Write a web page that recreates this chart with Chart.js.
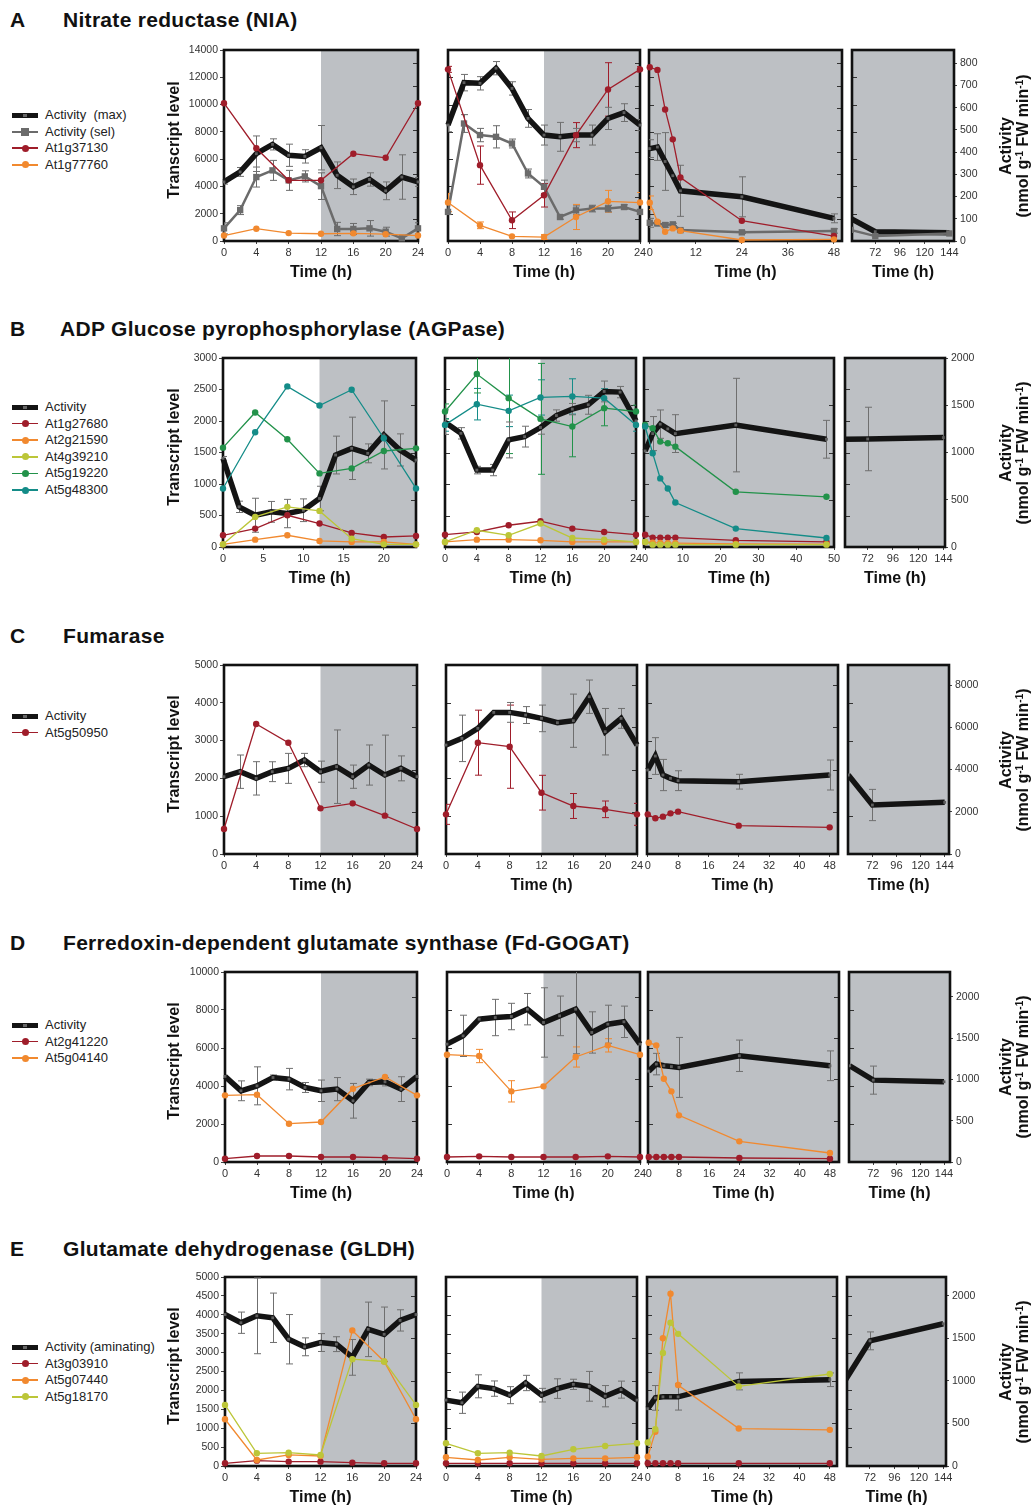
<!DOCTYPE html>
<html><head><meta charset="utf-8">
<script src="https://cdn.jsdelivr.net/npm/chart.js@4.4.1/dist/chart.umd.min.js"></script>
<style>
body{margin:0;width:1036px;height:1510px;background:#fff;position:relative;overflow:hidden;font-family:"Liberation Sans",Arial,Helvetica,sans-serif;color:#111}
.abs{position:absolute;white-space:nowrap}
.letter{font-weight:bold;font-size:21px;line-height:24px}
.title{font-weight:bold;font-size:21px;letter-spacing:0.3px;line-height:24px}
.leg{font-size:13px;line-height:16px;color:#222;white-space:pre}
.rot{position:absolute;display:flex;flex-direction:column;align-items:center;justify-content:center;transform:rotate(-90deg);text-align:center;font-weight:bold;font-size:16px;line-height:17px;white-space:nowrap;color:#111}
.rot span{display:block;white-space:nowrap}
canvas{position:absolute}
sup{font-size:10px;line-height:0;vertical-align:5px}
</style></head><body>
<script>
// ---------- time points ----------
const T_DAY  = [0,2,4,6,8,10,12,14,16,18,20,22,24];
const T_GENE = [0,4,8,12,16,20,24];
const T_DARK = [0,2,4,6,8,24,48];
const T_LONG = [48,72,144];

// ---------- A: Nitrate reductase ----------
const A_max1 = [266,311,393,435,386,381,420,296,244,277,226,288,266];
const A_max1_err = [10,20,80,25,50,30,100,60,35,30,40,100,20];
const A_max2 = [522,713,710,778,687,552,477,469,477,477,552,578,522];
const A_max2_err = [30,37,30,30,30,40,45,65,30,45,50,40,25];
const A_max3 = [416,423,358,294,226,199,102];
const A_max3_err = [40,60,130,0,115,90,20];
const A_max4 = [102,42,37];
const A_sel1 = [57,139,288,318,273,291,247,54,54,57,42,12,57];
const A_sel1_err = [25,20,45,45,45,25,60,30,25,35,20,15,25];
const A_sel2 = [131,529,477,469,439,304,244,108,138,146,146,153,131];
const A_sel2_err = [0,40,30,50,20,20,30,10,20,15,15,10,0];
const A_sel3 = [82,79,72,75,49,39,45];
const A_sel3_err = [20,10,10,5,5,5,10];
const A_sel4 = [50,22,34];
const A_At1g37130_1 = [10100,6800,4450,4450,6400,6100,10100];
const A_At1g37130_2 = [12580,5560,1520,3350,7760,11110,12580];
const A_At1g37130_2_err = [220,1400,610,860,920,1960,200];
const A_At1g37130_3 = [12735,12540,9643,7451,4651,1485,365];
const A_At1g77760_1 = [400,900,580,530,560,500,400];
const A_At1g77760_2 = [2820,1150,340,290,1760,2910,2820];
const A_At1g77760_2_err = [670,245,0,180,920,800,735];
const A_At1g77760_3 = [2800,1412,682,925,755,73,122];
const A_At1g77760_3_err = [500,0,0,0,0,0,0];

// ---------- B: AGPase ----------
const B_act1 = [938,425,336,372,354,389,513,973,1044,991,1186,1027,920];
const B_act1_err = [20,60,180,110,150,120,130,200,330,100,360,170,20];
const B_act2 = [1321,1203,814,814,1133,1168,1264,1391,1459,1505,1646,1639,1335];
const B_act2_err = [130,60,40,60,190,110,70,60,60,100,110,60,40];
const B_act3 = [1016,1200,1300,1250,1200,1290,1140];
const B_act3_err = [0,180,150,0,200,495,200];
const B_act4 = [1140,1143,1158];
const B_act4_err = [0,336,0];
const B_At1g27680_1 = [186,292,504,372,223,159,175];
const B_At1g27680_2 = [196,239,345,409,292,239,196];
const B_At1g27680_3 = [196,149,149,149,149,106,80];
const B_At2g21590_1 = [42,117,186,96,80,80,42];
const B_At2g21590_2 = [80,117,117,106,80,80,80];
const B_At2g21590_3 = [80,69,65,60,60,50,45];
const B_At4g39210_1 = [42,478,637,573,133,42,42];
const B_At4g39210_2 = [80,266,186,372,143,117,80];
const B_At4g39210_3 = [80,37,37,37,37,37,37];
const B_At5g19220_1 = [1577,2135,1710,1168,1248,1524,1566];
const B_At5g19220_2 = [2151,2745,2363,2034,1912,2204,2151];
const B_At5g19220_2_err = [120,300,880,880,480,280,100];
const B_At5g19220_3 = [1938,1885,1673,1646,1593,876,797];
const B_At5g48300_1 = [929,1821,2549,2246,2496,1726,929];
const B_At5g48300_2 = [1938,2267,2161,2374,2390,2363,1938];
const B_At5g48300_2_err = [100,250,250,280,280,150,100];
const B_At5g48300_3 = [1912,1487,1089,929,706,292,143];

// ---------- C: Fumarase ----------
const C_act1 = [3661,3898,3582,3898,4055,4450,3898,4134,3661,4213,3740,4055,3661];
const C_act1_err = [0,790,790,470,710,315,500,1740,550,950,1890,590,0];
const C_act2 = [5160,5476,5949,6706,6706,6580,6422,6217,6312,7448,5791,6422,5160];
const C_act2_err = [0,1100,0,0,470,400,630,0,1260,790,1100,470,0];
const C_act3 = [3977,4639,3740,3582,3472,3424,3740];
const C_act3_err = [0,870,740,0,470,350,710];
const C_act4 = [3740,2320,2446];
const C_act4_err = [0,740,0];
const C_At5g50950_1 = [661,3439,2945,1208,1340,1014,661];
const C_At5g50950_2 = [1049,2945,2839,1622,1270,1182,1049];
const C_At5g50950_2_err = [265,860,1100,460,330,220,290];
const C_At5g50950_3 = [1049,944,988,1076,1120,750,705];

// ---------- D: Fd-GOGAT ----------
const D_act1 = [1036,862,922,1023,1003,902,862,882,741,963,971,882,1036];
const D_act1_err = [0,120,230,30,130,60,130,140,210,40,50,150,0];
const D_act2 = [1427,1527,1729,1749,1761,1850,1689,1769,1850,1568,1668,1697,1427];
const D_act2_err = [0,250,0,220,160,190,420,240,540,250,230,190,0];
const D_act3 = [1100,1185,1165,1155,1145,1286,1165];
const D_act3_err = [0,130,0,0,363,190,180];
const D_act4 = [1165,991,971];
const D_act4_err = [0,170,0];
const D_At2g41220_1 = [175,316,316,263,263,228,175];
const D_At2g41220_2 = [263,298,263,263,263,298,263];
const D_At2g41220_3 = [263,263,263,263,263,210,175];
const D_At5g04140_1 = [3508,3543,2017,2105,3859,4473,3508];
const D_At5g04140_2 = [5648,5578,3719,3982,5526,6139,5648];
const D_At5g04140_2_err = [0,350,560,0,530,350,0];
const D_At5g04140_3 = [6279,6139,4385,3719,2456,1087,474];

// ---------- E: GLDH ----------
const E_act1 = [1779,1683,1764,1741,1489,1400,1450,1431,1276,1605,1547,1710,1779];
const E_act1_err = [0,125,445,290,290,105,105,87,210,320,320,125,0];
const E_act2 = [774,743,936,909,832,975,832,909,959,936,820,897,774];
const E_act2_err = [0,125,135,90,100,90,80,115,60,175,125,100,0];
const E_act3 = [673,800,812,812,812,994,1013];
const E_act3_err = [0,145,0,0,155,100,80];
const E_act4 = [1013,1470,1671];
const E_act4_err = [0,105,0];
const E_At3g03910_1 = [71,141,115,115,88,71,71];
const E_At3g03910_2 = [71,71,71,71,71,71,71];
const E_At3g03910_3 = [71,71,71,71,71,71,71];
const E_At5g07440_1 = [1237,159,292,265,3587,2765,1237];
const E_At5g07440_2 = [230,159,230,177,203,203,230];
const E_At5g07440_3 = [248,903,3381,4558,2142,991,956];
const E_At5g18170_1 = [1617,336,353,292,2827,2765,1617];
const E_At5g18170_2 = [601,336,353,265,442,530,601];
const E_At5g18170_3 = [620,974,2991,3788,3496,2106,2434];

// ---------- axis tick labels ----------
const TICKS_DAY  = [0,4,8,12,16,20,24];
const TICKS_DAY5 = [0,5,10,15,20];
const TICKS_D12  = [0,12,24,36,48];
const TICKS_D10  = [0,10,20,30,40,50];
const TICKS_D8   = [0,8,16,24,32,40,48];
const TICKS_LONG = [72,96,120,144];

// ---------- styling ----------
const FONT = '"Liberation Sans", Arial, Helvetica, sans-serif';
const SHADE = '#bdc0c4';
const COL = {red:'#9f1d2a', orange:'#f1892f', yellow:'#bcc638', green:'#22924a', teal:'#148c88', black:'#141414', gray:'#6b6b6b'};
const ALL = [[-1000,1000]], HALF = [[12,1000]];

const ROWS = [
 {letter:'A', title:'Nitrate reductase (NIA)', tx:63,
  top:50, bottom:241, box:[[224,418],[448,640],[649,842],[852,954]],
  xr:[[0,24],[0,24],[-0.2,50.1],[49.4,148.5]], ticks:[TICKS_DAY,TICKS_DAY,TICKS_D12,TICKS_LONG],
  lmax:14000, lstep:2000, rmax:860, rstep:100, legY:115,
  series:[
   {label:'Activity  (max)', kind:'act', p:[[T_DAY,A_max1,A_max1_err],[T_DAY,A_max2,A_max2_err],[T_DARK,A_max3,A_max3_err],[T_LONG,A_max4]]},
   {label:'Activity (sel)', kind:'sel', p:[[T_DAY,A_sel1,A_sel1_err],[T_DAY,A_sel2,A_sel2_err],[T_DARK,A_sel3,A_sel3_err],[T_LONG,A_sel4]]},
   {label:'At1g37130', color:COL.red, p:[[T_GENE,A_At1g37130_1],[T_GENE,A_At1g37130_2,A_At1g37130_2_err],[T_DARK,A_At1g37130_3]]},
   {label:'At1g77760', color:COL.orange, p:[[T_GENE,A_At1g77760_1],[T_GENE,A_At1g77760_2,A_At1g77760_2_err],[T_DARK,A_At1g77760_3,A_At1g77760_3_err]]}
  ]},
 {letter:'B', title:'ADP Glucose pyrophosphorylase (AGPase)', tx:60,
  top:358, bottom:547, box:[[223,416],[445,636],[644,834],[845,945]],
  xr:[[0,24],[0,24],[-0.3,50],[50.4,145.6]], ticks:[TICKS_DAY5,TICKS_DAY,TICKS_D10,TICKS_LONG],
  lmax:3000, lstep:500, rmax:2000, rstep:500, legY:407,
  series:[
   {label:'Activity', kind:'act', p:[[T_DAY,B_act1,B_act1_err],[T_DAY,B_act2,B_act2_err],[T_DARK,B_act3,B_act3_err],[T_LONG,B_act4,B_act4_err]]},
   {label:'At1g27680', color:COL.red, p:[[T_GENE,B_At1g27680_1],[T_GENE,B_At1g27680_2],[T_DARK,B_At1g27680_3]]},
   {label:'At2g21590', color:COL.orange, p:[[T_GENE,B_At2g21590_1],[T_GENE,B_At2g21590_2],[T_DARK,B_At2g21590_3]]},
   {label:'At4g39210', color:COL.yellow, p:[[T_GENE,B_At4g39210_1],[T_GENE,B_At4g39210_2],[T_DARK,B_At4g39210_3]]},
   {label:'At5g19220', color:COL.green, p:[[T_GENE,B_At5g19220_1],[T_GENE,B_At5g19220_2,B_At5g19220_2_err],[T_DARK,B_At5g19220_3]]},
   {label:'At5g48300', color:COL.teal, p:[[T_GENE,B_At5g48300_1],[T_GENE,B_At5g48300_2,B_At5g48300_2_err],[T_DARK,B_At5g48300_3]]}
  ]},
 {letter:'C', title:'Fumarase', tx:63,
  top:665, bottom:854, box:[[224,417],[446,637],[647,838],[848,949]],
  xr:[[0,24],[0,24],[-0.2,50.2],[47.7,148.3]], ticks:[TICKS_DAY,TICKS_DAY,TICKS_D8,TICKS_LONG],
  lmax:5000, lstep:1000, rmax:8950, rstep:2000, legY:716,
  series:[
   {label:'Activity', kind:'act', p:[[T_DAY,C_act1,C_act1_err],[T_DAY,C_act2,C_act2_err],[T_DARK,C_act3,C_act3_err],[T_LONG,C_act4,C_act4_err]]},
   {label:'At5g50950', color:COL.red, p:[[T_GENE,C_At5g50950_1],[T_GENE,C_At5g50950_2,C_At5g50950_2_err],[T_DARK,C_At5g50950_3]]}
  ]},
 {letter:'D', title:'Ferredoxin-dependent glutamate synthase (Fd-GOGAT)', tx:63,
  top:972, bottom:1162, box:[[225,417],[447,640],[648,839],[849,950]],
  xr:[[0,24],[0,24],[-0.2,50.4],[47.3,150.1]], ticks:[TICKS_DAY,TICKS_DAY,TICKS_D8,TICKS_LONG],
  lmax:10000, lstep:2000, rmax:2300, rstep:500, legY:1025,
  series:[
   {label:'Activity', kind:'act', p:[[T_DAY,D_act1,D_act1_err],[T_DAY,D_act2,D_act2_err],[T_DARK,D_act3,D_act3_err],[T_LONG,D_act4,D_act4_err]]},
   {label:'At2g41220', color:COL.red, p:[[T_GENE,D_At2g41220_1],[T_GENE,D_At2g41220_2],[T_DARK,D_At2g41220_3]]},
   {label:'At5g04140', color:COL.orange, p:[[T_GENE,D_At5g04140_1],[T_GENE,D_At5g04140_2,D_At5g04140_2_err],[T_DARK,D_At5g04140_3]]}
  ]},
 {letter:'E', title:'Glutamate dehydrogenase (GLDH)', tx:63,
  top:1277, bottom:1466, box:[[225,416],[446,637],[647,837],[847,946]],
  xr:[[0,24],[0,24],[-0.2,49.9],[49.4,146.7]], ticks:[TICKS_DAY,TICKS_DAY,TICKS_D8,TICKS_LONG],
  lmax:5000, lstep:500, rmax:2220, rstep:500, legY:1347,
  series:[
   {label:'Activity (aminating)', kind:'act', p:[[T_DAY,E_act1,E_act1_err],[T_DAY,E_act2,E_act2_err],[T_DARK,E_act3,E_act3_err],[T_LONG,E_act4,E_act4_err]]},
   {label:'At3g03910', color:COL.red, p:[[T_GENE,E_At3g03910_1],[T_GENE,E_At3g03910_2],[T_DARK,E_At3g03910_3]]},
   {label:'At5g07440', color:COL.orange, p:[[T_GENE,E_At5g07440_1],[T_GENE,E_At5g07440_2],[T_DARK,E_At5g07440_3]]},
   {label:'At5g18170', color:COL.yellow, p:[[T_GENE,E_At5g18170_1],[T_GENE,E_At5g18170_2],[T_DARK,E_At5g18170_3]]}
  ]}
];

// ---------- plugin: shading, frame, inner ticks, error bars ----------
const framePlugin = {
  id:'frame',
  beforeDatasetsDraw(chart, args, opts){
    const {ctx, chartArea:{left,right,top,bottom}} = chart;
    const x = chart.scales.x;
    ctx.save();
    ctx.fillStyle = SHADE;
    (opts.dark||[]).forEach(([a,b])=>{
      const x0 = Math.max(left, x.getPixelForValue(a)), x1 = Math.min(right, x.getPixelForValue(b));
      if (x1 > x0) ctx.fillRect(x0, top, x1-x0, bottom-top);
    });
    ctx.strokeStyle = '#333'; ctx.lineWidth = 1;
    const tick = (sc, x0, x1) => sc.ticks.forEach(t=>{
      const py = Math.round(sc.getPixelForValue(t.value))+0.5;
      ctx.beginPath(); ctx.moveTo(x0, py); ctx.lineTo(x1, py); ctx.stroke();
    });
    if (opts.innerLeft) tick(chart.scales.y, left, left+5);
    if (opts.innerRight) tick(chart.scales.y2, right-5, right);
    ctx.strokeStyle = '#111'; ctx.lineWidth = 2.6;
    ctx.strokeRect(left, top, right-left, bottom-top);
    ctx.beginPath(); ctx.rect(left, top, right-left, bottom-top); ctx.clip();
    chart.data.datasets.forEach((ds,i)=>{
      if (!ds.errors) return;
      const meta = chart.getDatasetMeta(i), ys = chart.scales[ds.yAxisID];
      ctx.strokeStyle = ds.errColor; ctx.lineWidth = 1;
      meta.data.forEach((pt,j)=>{
        const e = ds.errors[j]; if (!e) return;
        const v = ds.data[j].y, px = Math.round(pt.x)+0.5;
        const y0 = ys.getPixelForValue(v+e), y1 = ys.getPixelForValue(v-e);
        ctx.beginPath();
        ctx.moveTo(px, y0); ctx.lineTo(px, y1);
        ctx.moveTo(px-3.5, y0); ctx.lineTo(px+3.5, y0);
        ctx.moveTo(px-3.5, y1); ctx.lineTo(px+3.5, y1);
        ctx.stroke();
      });
    });
    ctx.restore();
  }
};
Chart.register(framePlugin);

function dsStyle(s){
  if (s.kind==='act') return {borderColor:COL.black, borderWidth:5.5, pointRadius:2, pointStyle:'rect', pointBackgroundColor:'#5e5e5e', pointBorderWidth:0, yAxisID:'y2', errColor:'#6f6f6f'};
  if (s.kind==='sel') return {borderColor:COL.gray, borderWidth:2.5, pointRadius:4.5, pointStyle:'rect', pointBackgroundColor:COL.gray, pointBorderWidth:0, yAxisID:'y2', errColor:COL.gray};
  return {borderColor:s.color, borderWidth:1.3, pointRadius:3.2, pointStyle:'circle', pointBackgroundColor:s.color, pointBorderWidth:0, yAxisID:'y', errColor:s.color};
}

function el(tag, cls, html, css){
  const d = document.createElement(tag); if (cls) d.className = cls; if (html!=null) d.innerHTML = html;
  Object.assign(d.style, css||{}); document.body.appendChild(d); return d;
}

function stepTicks(max, step){
  const out = []; for (let v=0; v<=max+1e-9; v+=step) out.push({value:v}); return out;
}

function makePanel(row, pi){
  const [L, R] = row.box[pi];
  const WL = pi===0 ? 46 : 10, WR = pi===3 ? 42 : 10, PT = 10, XH = 41;
  const w = R - L + WL + WR, h = row.bottom - row.top + PT + XH;
  const cv = el('canvas', null, null, {left:(L-WL)+'px', top:(row.top-PT)+'px', width:w+'px', height:h+'px'});
  cv.width = w; cv.height = h;
  const datasets = [];
  row.series.slice().reverse().forEach(s=>{
    const d = s.p[pi]; if (!d) return;
    const [ts, vs, es] = d;
    datasets.push(Object.assign(dsStyle(s), {
      label:s.label, data:ts.map((t,i)=>({x:t, y:vs[i]})), errors:es||null,
      tension:0, fill:false, clip: pi===3 ? {left:0,right:4,top:6,bottom:6} : 5
    }));
  });
  const tickFont = {family:FONT, size:10.5};
  const plain = v => String(v);
  new Chart(cv, {
    type:'line',
    data:{datasets},
    options:{
      responsive:false, animation:false, devicePixelRatio:1,
      layout:{padding:{top:PT, left:0, right:0, bottom:0}},
      plugins:{legend:{display:false}, tooltip:{enabled:false},
        frame:{dark: pi<2 ? HALF : ALL, innerLeft: pi>0, innerRight: pi<3}},
      scales:{
        x:{type:'linear', min:row.xr[pi][0], max:row.xr[pi][1],
           afterBuildTicks: s=>{ s.ticks = row.ticks[pi].map(v=>({value:v})); },
           ticks:{font:{family:FONT, size:11}, color:'#333', padding:2, maxRotation:0, autoSkip:false, callback:plain},
           grid:{display:true, drawOnChartArea:false, drawTicks:true, tickLength:3, color:'#444'},
           border:{display:false},
           title:{display:true, text:'Time (h)', color:'#111', font:{family:FONT, size:16, weight:'bold'}, padding:{top:0, bottom:0}},
           afterFit: s=>{ s.height = XH; }},
        y:{position:'left', min:0, max:row.lmax,
           afterBuildTicks: s=>{ s.ticks = stepTicks(row.lmax, row.lstep); },
           ticks:{display:pi===0, font:tickFont, color:'#333', padding:2, autoSkip:false, callback:plain},
           grid:{display:true, drawOnChartArea:false, drawTicks:pi===0, tickLength:4, color:'#444'},
           border:{display:false},
           afterFit: s=>{ s.width = WL; }},
        y2:{position:'right', min:0, max:row.rmax,
           afterBuildTicks: s=>{ s.ticks = stepTicks(row.rmax, row.rstep); },
           ticks:{display:pi===3, font:tickFont, color:'#333', padding:3, autoSkip:false, callback:plain},
           grid:{display:true, drawOnChartArea:false, drawTicks:pi===3, tickLength:3, color:'#444'},
           border:{display:false},
           afterFit: s=>{ s.width = WR; }}
      }
    }
  });
}

function legendSample(s, y){
  const cy = y;
  if (s.kind==='act'){
    el('div', null, null, {position:'absolute', left:'12px', top:(cy-2.5)+'px', width:'26px', height:'5px', background:COL.black});
    el('div', null, null, {position:'absolute', left:'23px', top:(cy-1.5)+'px', width:'4px', height:'3px', background:'#666'});
  } else if (s.kind==='sel'){
    el('div', null, null, {position:'absolute', left:'12px', top:(cy-1)+'px', width:'26px', height:'2px', background:COL.gray});
    el('div', null, null, {position:'absolute', left:'21px', top:(cy-4)+'px', width:'8px', height:'8px', background:COL.gray});
  } else {
    el('div', null, null, {position:'absolute', left:'12px', top:(cy-0.75)+'px', width:'26px', height:'1.5px', background:s.color});
    el('div', null, null, {position:'absolute', left:'21.5px', top:(cy-3.5)+'px', width:'7px', height:'7px', borderRadius:'50%', background:s.color});
  }
  el('div', 'abs leg', s.label, {left:'45px', top:(cy-8)+'px'});
}

ROWS.forEach((row, ri)=>{
  const titleY = [20, 329, 636, 943, 1249][ri];
  el('div', 'abs letter', row.letter, {left:'10px', top:(titleY-12)+'px'});
  el('div', 'abs title', row.title, {left:row.tx+'px', top:(titleY-12)+'px'});
  row.series.forEach((s, k)=> legendSample(s, row.legY + k*16.6));
  for (let pi=0; pi<4; pi++) makePanel(row, pi);
  const cy = (row.top + row.bottom)/2;
  el('div', 'rot', '<span>Transcript level</span>', {left:(173-75)+'px', top:(cy-6-10)+'px', width:'150px', height:'20px'});
  el('div', 'rot', '<span>Activity</span><span>(nmol g<sup>-1</sup> FW min<sup>-1</sup>)</span>', {left:(1014-85)+'px', top:(cy-18)+'px', width:'170px', height:'36px'});
});
</script>
</body></html>
